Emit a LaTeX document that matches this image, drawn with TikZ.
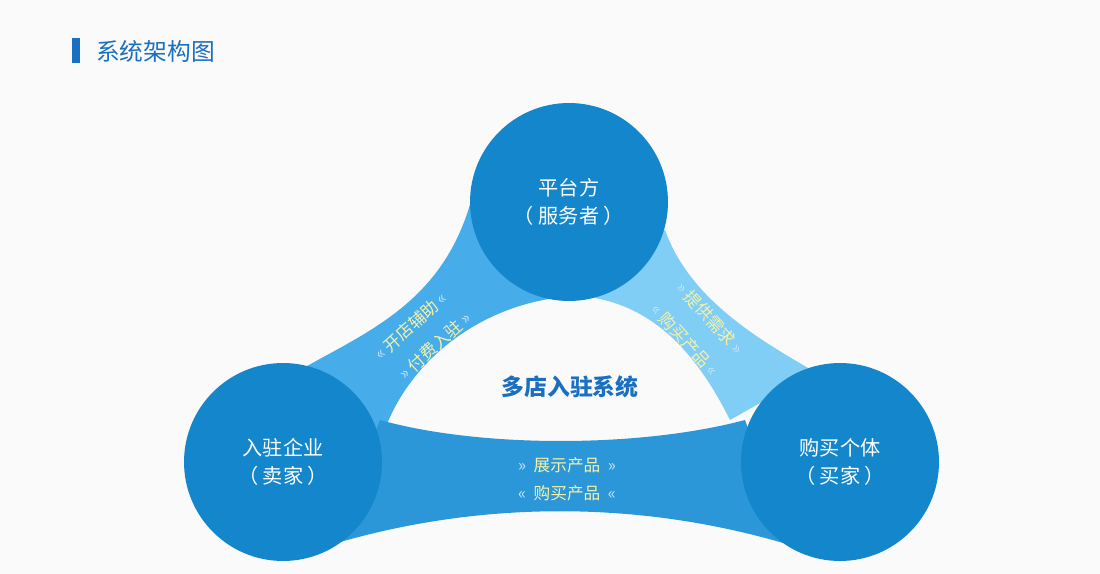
\documentclass[tikz,border=0pt]{standalone}
\usepackage{fontspec}
\setmainfont{Noto Sans CJK SC}
\usetikzlibrary{positioning}
\definecolor{circleblue}{HTML}{1386CC}
\definecolor{bandbottom}{HTML}{2B97D9}
\definecolor{bandleft}{HTML}{47ACEA}
\definecolor{bandright}{HTML}{80CDF6}
\definecolor{titleblue}{HTML}{1A6FC0}
\definecolor{labelyellow}{HTML}{F6F1A6}
\definecolor{chevron}{HTML}{BFE4F9}
\tikzset{
	party/.style={circle, fill=circleblue, minimum size=3.96cm, inner sep=0pt, align=center, text=white, font=\fontsize{11.5}{16}\selectfont},
	bandtext/.style={text=labelyellow, font=\fontsize{9.5}{10}\selectfont, inner sep=0pt},
}
\newcommand{\chevR}{{\color{chevron}\char"BB}}
\newcommand{\chevL}{{\color{chevron}\char"AB}}
\begin{document}
\begin{tikzpicture}[x=0.02cm, y=-0.02cm]
	
	% background and bounding box
	\fill[white!98!black] (0,0) rectangle (1100,574);
	\useasboundingbox (0,0) rectangle (1100,574);
	
	% title
	\fill[titleblue] (72,38) rectangle (80,63);
	\node[anchor=west, text=titleblue, font=\fontsize{13.5}{16}\selectfont] (title) at (90,51) {系统架构图};
	
	% bands
	\fill[bandleft] (300,370) .. controls (370,330) and (450,300) .. (475,185)
		-- (555,298) .. controls (470,310) and (400,370) .. (380,445) -- cycle;
	\fill[bandright] (665,230) .. controls (690,300) and (760,340) .. (815,372)
		-- (730,420) .. controls (700,360) and (660,310) .. (595,298) -- cycle;
	\fill[bandbottom] (380,420) .. controls (480,448) and (640,448) .. (745,420)
		-- (790,545) .. controls (640,500) and (480,500) .. (330,545) -- cycle;
	
	% parties
	\node[party] (platform) at (569,202) {平台方\\（ 服务者 ）};
	\node[party] (seller) at (283,462) {入驻企业\\（ 卖家 ）};
	\node[party] (buyer) at (840,462) {购买个体\\（ 买家 ）};
	
	% centre
	\node[text=titleblue, font=\fontsize{13}{15}\selectfont\bfseries] (system) at (570,387) {多店入驻系统};
	
	% band labels
	\node[bandtext, rotate=42] (help) at (411,326) {\chevL\ 开店辅助\ \chevL};
	\node[bandtext, rotate=42] (fee) at (435,346) {\chevR\ 付费入驻\ \chevR};
	\node[bandtext, rotate=-48] (demand) at (710,318) {\chevR\ 提供需求\ \chevR};
	\node[bandtext, rotate=-48] (buy_top) at (685,340) {\chevL\ 购买产品\ \chevL};
	\node[bandtext] (show) at (567,465) {\chevR\ \ 展示产品\ \ \chevR};
	\node[bandtext] (buy_bottom) at (567,493) {\chevL\ \ 购买产品\ \ \chevL};
	
\end{tikzpicture}
\end{document}
